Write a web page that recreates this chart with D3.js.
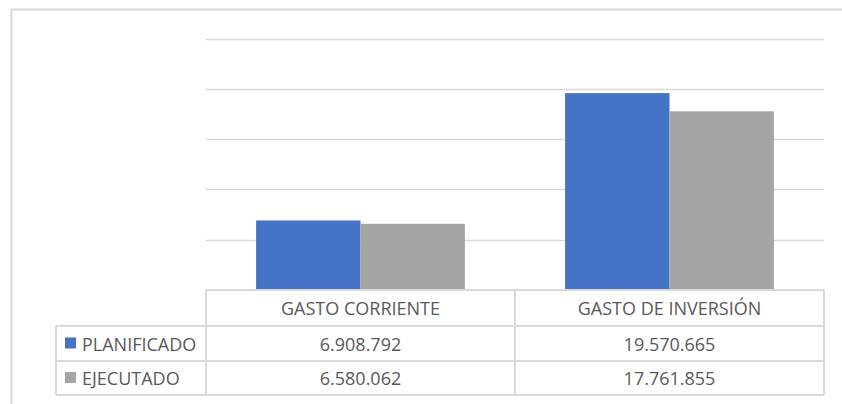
<!DOCTYPE html>
<html>
<head>
<meta charset="utf-8">
<script src="https://cdn.jsdelivr.net/npm/d3@7"></script>
<style>
  body { margin: 0; background: #fff; }
  svg { display: block; }
  text { font-family: "Open Sans", "Liberation Sans", sans-serif; fill: #595959; }
</style>
</head>
<body>
<div id="chart"></div>
<script>
var categories = ["GASTO CORRIENTE", "GASTO DE INVERSIÓN"];
var seriesNames = ["PLANIFICADO", "EJECUTADO"];
var planificado = [6908792, 19570665];
var ejecutado = [6580062, 17761855];
var yTicks = [0, 5000000, 10000000, 15000000, 20000000, 25000000];
var colors = ["#4472C4", "#A5A5A5"];

var width = 842, height = 404;
var seriesValues = [planificado, ejecutado];
var fmt = function(v){ return d3.format(",")(v).replace(/,/g, "."); };

var svg = d3.select("#chart").append("svg")
  .attr("width", width)
  .attr("height", height);

// outer chart border
svg.append("rect")
  .attr("x", 11.5).attr("y", 9.5)
  .attr("width", 850).attr("height", 420)
  .attr("fill", "none")
  .attr("stroke", "#d9d9d9")
  .attr("stroke-width", 2);

var plotLeft = 206, plotRight = 824;
var baseY = 290;
var rowH = [36, 35, 34];
var legendLeft = 56;
var fs = 18;

var x0 = d3.scaleBand().domain(categories).range([plotLeft, plotRight]).paddingInner(0).paddingOuter(0);
var x1 = d3.scaleBand().domain(seriesNames).range([0, x0.bandwidth()]).paddingInner(0).paddingOuter(0.48);
var y = d3.scaleLinear().domain([0, 25000000]).range([baseY, 38.5]);

// gridlines
svg.append("g").selectAll("line")
  .data(yTicks.slice(1))
  .enter().append("line")
  .attr("x1", plotLeft).attr("x2", plotRight)
  .attr("y1", function(d){ return Math.round(y(d)) + 0.5; })
  .attr("y2", function(d){ return Math.round(y(d)) + 0.5; })
  .attr("stroke", "#d9d9d9")
  .attr("stroke-width", 1.5);

// bars
var groups = svg.append("g").selectAll("g")
  .data(categories)
  .enter().append("g")
  .attr("transform", function(d){ return "translate(" + x0(d) + ",0)"; });

groups.selectAll("rect")
  .data(function(d, i){ return seriesNames.map(function(s, j){ return {s: s, j: j, v: seriesValues[j][i]}; }); })
  .enter().append("rect")
  .attr("x", function(d){ return x1(d.s); })
  .attr("width", x1.bandwidth())
  .attr("y", function(d){ return y(d.v); })
  .attr("height", function(d){ return baseY - y(d.v); })
  .attr("fill", function(d){ return colors[d.j]; });

// data table
var table = svg.append("g");
var lineColor = "#d9d9d9";
var r1 = baseY, r2 = r1 + rowH[0], r3 = r2 + rowH[1], r4 = r3 + rowH[2];

function hline(x1_, x2_, yy){
  table.append("line").attr("x1", x1_).attr("x2", x2_).attr("y1", yy).attr("y2", yy)
    .attr("stroke", lineColor).attr("stroke-width", 2);
}
function vline(xx, y1_, y2_){
  table.append("line").attr("x1", xx).attr("x2", xx).attr("y1", y1_).attr("y2", y2_)
    .attr("stroke", lineColor).attr("stroke-width", 2);
}
hline(plotLeft, plotRight, r1);
hline(legendLeft, plotRight, r2);
hline(legendLeft, plotRight, r3);
hline(legendLeft, plotRight, r4);
vline(legendLeft, r2, r4);
vline(plotLeft, r1, r4);
categories.forEach(function(c){ vline(x0(c) + x0.bandwidth(), r1, r4); });

// header row
table.selectAll("text.cat")
  .data(categories)
  .enter().append("text")
  .attr("class", "cat")
  .attr("x", function(d){ return x0(d) + x0.bandwidth() / 2; })
  .attr("y", r1 + 25)
  .attr("text-anchor", "middle")
  .attr("font-size", fs)
  .text(function(d){ return d; });

// series rows
var rowTops = [r2, r3];
seriesNames.forEach(function(s, j){
  var cy = rowTops[j] + rowH[j + 1] / 2;
  table.append("rect")
    .attr("x", 65).attr("y", cy - 6)
    .attr("width", 11).attr("height", 11)
    .attr("fill", colors[j]);
  table.append("text")
    .attr("x", 82).attr("y", cy + 7)
    .attr("font-size", fs)
    .text(s);
  table.selectAll("text.v" + j)
    .data(categories)
    .enter().append("text")
    .attr("class", "v" + j)
    .attr("x", function(d){ return x0(d) + x0.bandwidth() / 2; })
    .attr("y", cy + 7)
    .attr("text-anchor", "middle")
    .attr("font-size", fs)
    .text(function(d, i){ return fmt(seriesValues[j][i]); });
});
</script>
</body>
</html>
